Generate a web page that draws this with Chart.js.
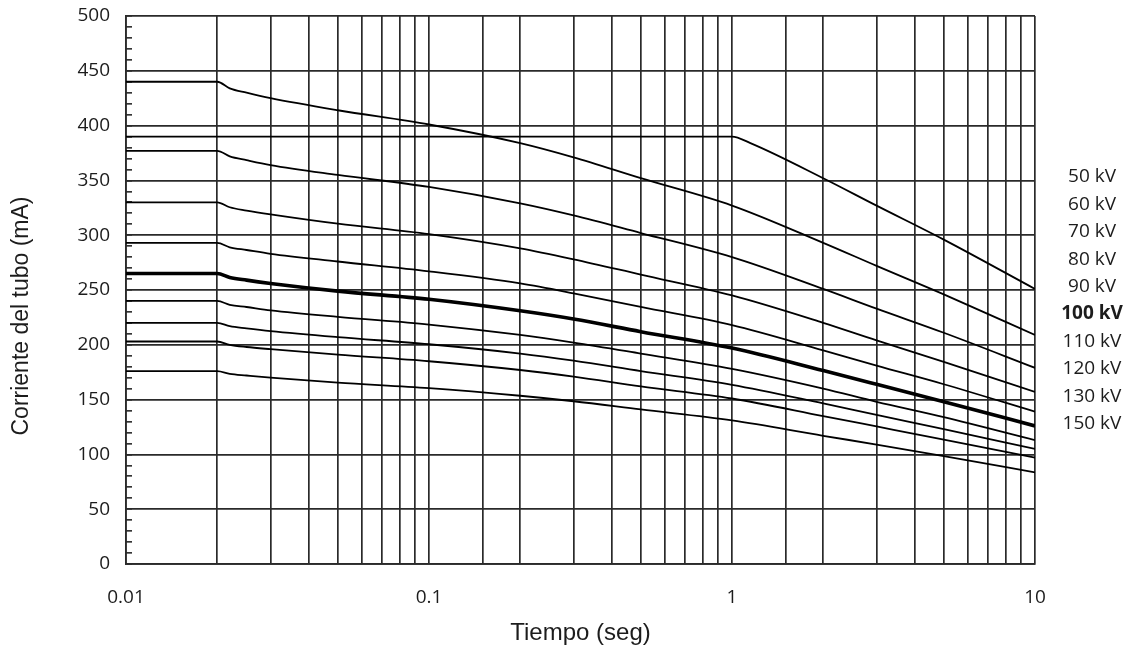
<!DOCTYPE html>
<html>
<head>
<meta charset="utf-8">
<title>Corriente del tubo</title>
<script src="https://cdn.jsdelivr.net/npm/chart.js@4.4.1/dist/chart.umd.min.js"></script>
<style>
    html, body { margin: 0; padding: 0; background: #fff; }
    #wrap { width: 1130px; height: 651px; }
</style>
</head>
<body>
<div id="wrap"><canvas id="chart" width="1130" height="651"></canvas></div>
<script>
// tiempos (seg) comunes a las curvas
const times = [0.01, 0.02, 0.022, 0.025, 0.03, 0.05, 0.1, 0.2, 0.3, 0.5, 1, 2, 3, 5, 10];
// la curva de 50 kV es plana hasta 1 s
const times50 = [0.01, 1, 1.15, 2, 3, 5, 10];

const kv50  = [390, 390, 384, 352, 327, 296, 251];
const kv60  = [440, 440, 434, 430, 425, 414, 401, 384, 371, 352, 327, 293, 272, 246, 209];
const kv70  = [377, 377, 372, 368.5, 364, 355, 344, 329, 318, 302, 280, 251, 233, 211, 179];
const kv80  = [330, 330, 325.5, 322.5, 319, 310.5, 301, 288, 278, 264, 245, 220, 204, 184.5, 157];
const kv90  = [293, 293, 289, 286.5, 283, 276, 267, 256, 247, 234.5, 218, 195, 181, 164, 139];
const kv100 = [265, 265, 261.5, 259, 256, 249, 241.5, 231, 223.5, 212, 197, 176.5, 164, 148, 126];
const kv110 = [240, 240, 236.5, 234.5, 231.5, 225.5, 218.5, 209, 202, 192, 178, 160, 148, 134, 113];
const kv120 = [220, 220, 217, 215, 212.5, 207, 200.5, 192, 185.5, 176, 163.5, 146.5, 136, 123, 105];
const kv130 = [203, 203, 200, 198, 196, 191, 185, 177, 171, 162, 151, 135, 125.5, 113.5, 97];
const kv150 = [176, 176, 173.5, 172, 170, 165.5, 160.5, 153.5, 148.5, 141, 131, 117, 109, 98.5, 83.5];

const seriesLabels = ['50 kV', '60 kV', '70 kV', '80 kV', '90 kV', '100 kV', '110 kV', '120 kV', '130 kV', '150 kV'];
const seriesValues = [kv50, kv60, kv70, kv80, kv90, kv100, kv110, kv120, kv130, kv150];

const xTickLabels = ['0.01', '0.1', '1', '10'];
const yTickLabels = ['0', '50', '100', '150', '200', '250', '300', '350', '400', '450', '500'];

const gridColor = '#2a2a2a';
const textColor = '#1c1c1c';

const datasets = seriesValues.map(function(vals, i) {
    const xs = i === 0 ? times50 : times;
    return {
        label: seriesLabels[i],
        data: vals.map((v, j) => ({ x: xs[j], y: v })),
        borderColor: '#000',
        borderWidth: seriesLabels[i] === '100 kV' ? 3.6 : 1.8,
        pointRadius: 0,
        fill: false,
        cubicInterpolationMode: 'monotone'
    };
});

// etiquetas de kV a la derecha y titulo del eje Y
const sideText = {
    id: 'sideText',
    afterDraw(chart) {
        const { ctx, chartArea } = chart;
        ctx.save();
        ctx.fillStyle = textColor;
        ctx.textAlign = 'center';
        ctx.textBaseline = 'middle';
        chart.data.datasets.forEach(function(ds, i) {
            ctx.font = (ds.label === '100 kV' ? 'bold ' : '') + '19px "Open Sans"';
            ctx.fillText(ds.label, chartArea.right + 57, chartArea.top + 161 + i * 27.4);
        });
        ctx.font = '23px "Liberation Sans", Arial';
        ctx.translate(22, (chartArea.top + chartArea.bottom) / 2 + 26);
        ctx.rotate(-Math.PI / 2);
        ctx.fillText('Corriente del tubo (mA)', 0, 0);
        ctx.restore();
    }
};

new Chart(document.getElementById('chart'), {
    type: 'line',
    data: { datasets: datasets },
    plugins: [sideText],
    options: {
        responsive: false,
        animation: false,
        layout: { padding: { left: 0, right: 95, top: 16, bottom: 0 } },
        plugins: {
            legend: { display: false },
            tooltip: { enabled: false }
        },
        scales: {
            x: {
                type: 'logarithmic',
                min: 0.01,
                max: 10,
                afterFit: function(scale) { scale.height = 87; },
                border: { color: gridColor, width: 1.7 },
                grid: { color: gridColor, lineWidth: 1.7, drawTicks: false },
                ticks: {
                    autoSkip: false,
                    maxRotation: 0,
                    padding: 22,
                    color: textColor,
                    font: { family: '"Open Sans"', size: 19 },
                    callback: function(value) {
                        const e = Math.log10(value);
                        if (Math.abs(e - Math.round(e)) < 1e-6) {
                            return xTickLabels[Math.round(e) + 2];
                        }
                        return '';
                    }
                },
                title: {
                    display: true,
                    text: 'Tiempo (seg)',
                    color: textColor,
                    font: { family: '"Liberation Sans", Arial', size: 24 },
                    padding: { top: 0, bottom: 3 }
                }
            },
            y: {
                min: 0,
                max: 500,
                afterFit: function(scale) {
                    scale.width = 126;
                    scale.paddingTop = 0;
                    scale.paddingBottom = 0;
                },
                border: { color: gridColor, width: 1.7 },
                grid: {
                    color: ctx => ctx.tick && ctx.tick.value % 50 === 0 ? gridColor : 'rgba(0,0,0,0)',
                    lineWidth: 1.7,
                    drawTicks: true,
                    tickLength: -6,
                    tickColor: gridColor,
                    tickWidth: 1.6
                },
                ticks: {
                    stepSize: 10,
                    autoSkip: false,
                    padding: 22,
                    color: textColor,
                    font: { family: '"Open Sans"', size: 19 },
                    callback: function(value) {
                        return value % 50 === 0 ? yTickLabels[value / 50] : '';
                    }
                },
                title: { display: false }
            }
        }
    }
});
</script>
</body>
</html>
